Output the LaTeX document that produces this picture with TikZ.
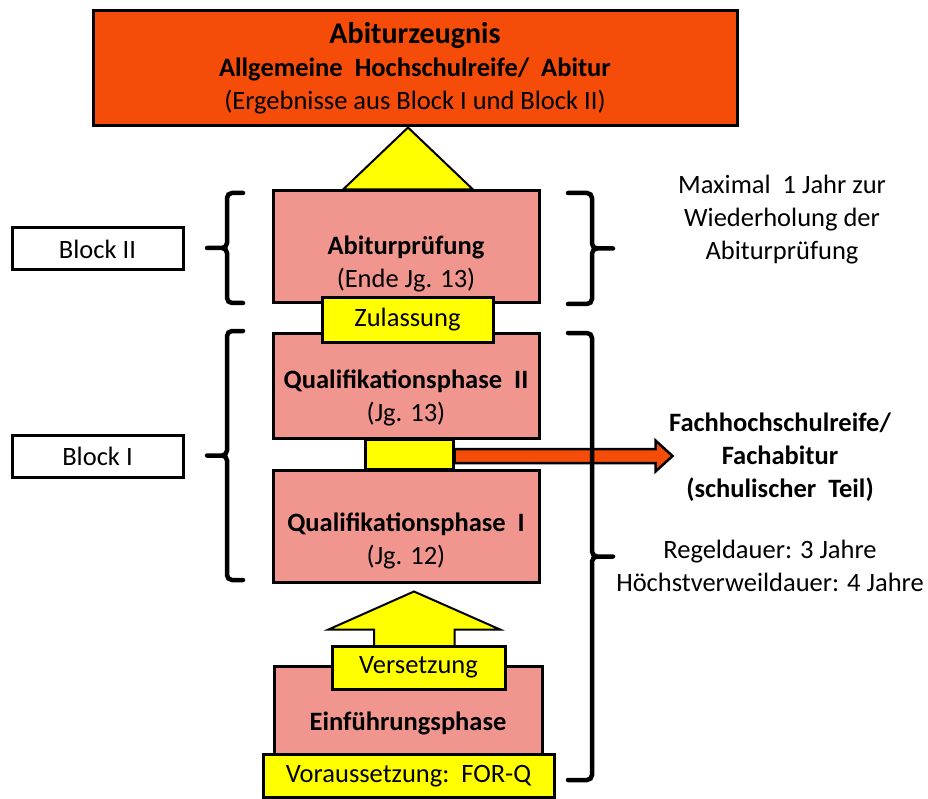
\documentclass[tikz,border=0pt]{standalone}
\usepackage{fontspec}
\setmainfont{Carlito}
\usepackage{xcolor}
\usepackage{tikz}
\usetikzlibrary{calc}
\definecolor{abiOrange}{HTML}{F54C0A}
\definecolor{phaseRose}{HTML}{F0968F}
\definecolor{gateYellow}{HTML}{FFFF00}

\begin{document}
\begin{tikzpicture}[x=1pt, y=-1pt,
        every node/.style={font=\fontsize{26.5}{33}\selectfont, align=center, inner sep=0pt},
        frame/.style={draw, line width=3pt},
        phasebox/.style={frame, fill=phaseRose, minimum width=266pt},
        gatebox/.style={frame, fill=gateYellow},
        blockbox/.style={frame, fill=white, minimum width=171pt, minimum height=42pt},
        bracket/.style={line width=4.5pt, rounded corners=5pt, line cap=round}]
                \useasboundingbox (0,0) rectangle (928,799);
                \node[frame, fill=abiOrange, minimum width=644pt, minimum height=115pt] (zeugnis) at (415,68.5) {{\fontsize{30}{33}\selectfont\textbf{Abiturzeugnis}}\\\textbf{Allgemeine\ \ Hochschulreife/\ \ Abitur}\\(Ergebnisse aus Block I und Block II)};
                \node[phasebox, minimum height=112pt] (abi) at (406,247) {};
                \node (abiT) at (406,264) {\textbf{Abiturprüfung}\\(Ende Jg. 13)};
                \draw[line width=2pt, fill=gateYellow] ($(abi.north)+(-63,0)$) -- ($(zeugnis.south)+(-7,0)$) -- ($(abi.north)+(67,0)$) -- cycle;
                \node[phasebox, minimum height=105pt] (q2) at (406,385.5) {};
                \node (q2T) at (406,398) {\textbf{Qualifikationsphase\ \ II}\\(Jg. 13)};
                \node[gatebox, minimum width=171pt, minimum height=44pt] (zul) at (407.5,320) {Zulassung};
                \node[phasebox, minimum height=112pt] (q1) at (406,526) {};
                \node (q1T) at (406,541) {\textbf{Qualifikationsphase\ \ I}\\(Jg. 12)};
                \node[gatebox, minimum width=88pt, minimum height=30pt] (gate) at (409,454) {};
                \coordinate (fa) at ($(gate.east)+(0,2)$);
                \draw[line width=2.5pt, fill=abiOrange] (fa) ++(0,-7) -- ++(201,0) -- ++(0,-8.5) -- ++(17,15.5) -- ++(-17,15.5) -- ++(0,-8.5) -- ++(-201,0) -- cycle;
                \coordinate (up) at ($(q1.south)+(8.5,64)$);
                \draw[line width=2pt, fill=gateYellow] (up) ++(-40.5,0) -- ++(0,-18) -- ++(-45.5,0) -- ++(85.5,-38) -- ++(86,38) -- ++(-45.5,0) -- ++(0,18) -- cycle;
                \node[phasebox, minimum width=268pt, minimum height=88pt] (ein) at (408,710) {};
                \node (einT) at (408,723) {\textbf{Einführungsphase}};
                \node[gatebox, minimum width=173pt, minimum height=43pt] (vers) at (418.5,667.5) {Versetzung};
                \node[gatebox, minimum width=291pt, minimum height=43pt] (vor) at (408.5,776) {Voraussetzung:\ \ FOR-Q};
                \node[blockbox] (b2) at (97.5,249) {Block II};
                \node[blockbox] (b1) at (97.5,456) {Block I};
                \node (wdh) at (782,220) {Maximal\ \ 1 Jahr zur\\Wiederholung der\\Abiturprüfung};
                \node[font=\fontsize{26.5}{33}\selectfont\bfseries] (fhr) at (780,457) {Fachhochschulreife/\\Fachabitur\\(schulischer\ \ Teil)};
                \node (dauer) at (770,566) {Regeldauer: 3 Jahre\\Höchstverweildauer: 4 Jahre};
                \foreach \xv/\xs/\xt/\ya/\yb in {227/243/207/193/303, 227/243/207/331/580, 592/568/613/193/304, 592/568/613/333/780}
                    \draw[bracket] (\xs,\ya) -- (\xv,\ya) -- (\xv,{(\ya+\yb)/2}) -- (\xt,{(\ya+\yb)/2}) (\xs,\yb) -- (\xv,\yb) -- (\xv,{(\ya+\yb)/2}) -- (\xt,{(\ya+\yb)/2});
            \end{tikzpicture}
\end{document}
